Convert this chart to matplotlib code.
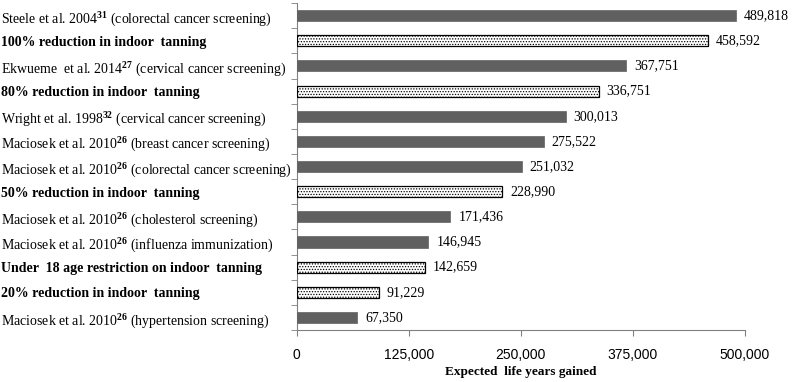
import matplotlib as mpl
import matplotlib.pyplot as plt
import numpy as np

labels = [
    "Steele et al. 2004$^{\\mathbf{31}}$ (colorectal cancer screening)",
    "100% reduction in indoor  tanning",
    "Ekwueme  et al. 2014$^{\\mathbf{27}}$ (cervical cancer screening)",
    "80% reduction in indoor  tanning",
    "Wright et al. 1998$^{\\mathbf{32}}$ (cervical cancer screening)",
    "Maciosek et al. 2010$^{\\mathbf{26}}$ (breast cancer screening)",
    "Maciosek et al. 2010$^{\\mathbf{26}}$ (colorectal cancer screening)",
    "50% reduction in indoor  tanning",
    "Maciosek et al. 2010$^{\\mathbf{26}}$ (cholesterol screening)",
    "Maciosek et al. 2010$^{\\mathbf{26}}$ (influenza immunization)",
    "Under  18 age restriction on indoor  tanning",
    "20% reduction in indoor  tanning",
    "Maciosek et al. 2010$^{\\mathbf{26}}$ (hypertension screening)",
]
values = [489818, 458592, 367751, 336751, 300013, 275522, 251032,
          228990, 171436, 146945, 142659, 91229, 67350]
is_tanning = [False, True, False, True, False, False, False,
              True, False, False, True, True, False]

mpl.rcParams.update({
    "font.family": "Liberation Serif",
    "mathtext.fontset": "custom",
    "mathtext.rm": "Liberation Serif",
    "mathtext.bf": "Liberation Serif:bold",
    "hatch.color": "#555555",
    "hatch.linewidth": 0.6,
})

fig, ax = plt.subplots(figsize=(8.0, 3.82), dpi=100)
fig.subplots_adjust(left=0.371, right=0.931, top=0.992, bottom=0.136)

y = np.arange(len(values))
for yi, v, tan in zip(y, values, is_tanning):
    if tan:
        ax.barh(yi, v, height=0.44, color="white", edgecolor="black",
                linewidth=0.9, hatch="......", zorder=3)
    else:
        ax.barh(yi, v, height=0.44, color="#606060", edgecolor="#606060",
                linewidth=0.5, zorder=3)
    ax.text(v + 9000, yi, f"{v:,}", va="center", ha="left", fontsize=10)

ax.set_ylim(len(values) - 0.5, -0.5)
ax.set_xlim(0, 500000)
ax.set_yticks(y)
ax.set_yticklabels(labels, fontsize=10)
for lbl, tan in zip(ax.get_yticklabels(), is_tanning):
    lbl.set_horizontalalignment("left")
    if tan:
        lbl.set_fontweight("bold")
ax.tick_params(axis="y", which="major", length=0, pad=213)
ax.set_yticks(np.arange(-0.5, len(values), 1.0), minor=True)
ax.tick_params(axis="y", which="minor", length=4, color="#808080")

ax.set_xticks([0, 125000, 250000, 375000, 500000])
ax.set_xticklabels(["0", "125,000", "250,000", "375,000", "500,000"],
                   fontsize=10, family="Liberation Sans")
ax.tick_params(axis="x", length=4, color="#808080", pad=9)
ax.set_xlabel("Expected  life years gained", fontsize=9.5, fontweight="bold", labelpad=3)

for side in ["top", "right"]:
    ax.spines[side].set_visible(False)
ax.spines["left"].set_color("#808080")
ax.spines["bottom"].set_color("#808080")

fig.savefig("out.png", dpi=100, facecolor="white")
